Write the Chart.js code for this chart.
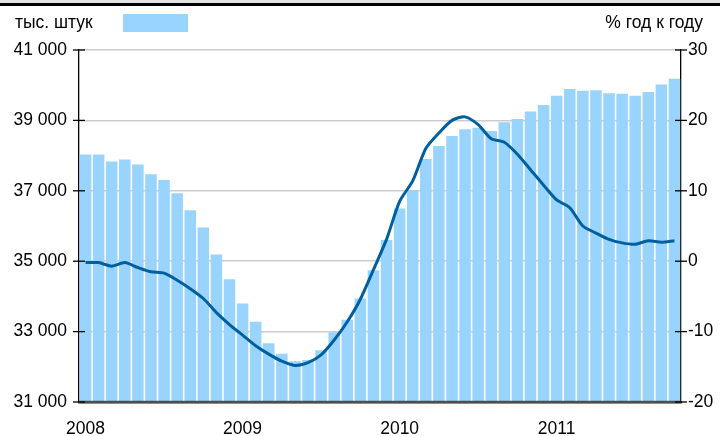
<!DOCTYPE html>
<html><head><meta charset="utf-8">
<script src="https://cdn.jsdelivr.net/npm/chart.js@4/dist/chart.umd.min.js"></script>
<style>
html,body{margin:0;padding:0;background:#fff;}
#wrap{position:relative;width:720px;height:436px;overflow:hidden;font-family:"Liberation Sans",Arial,sans-serif;color:#000;}
#topbar{position:absolute;left:0;top:0;width:720px;height:3px;background:#e4e4e4;}
#topline{position:absolute;left:0;top:3px;width:720px;height:3px;background:#000;}
#lt{position:absolute;left:15px;top:13px;font-size:17.5px;line-height:19px;}
#box{position:absolute;left:123px;top:14px;width:65px;height:18px;background:#99d4ff;}
#rt{position:absolute;right:17px;top:13px;font-size:17.5px;line-height:19px;}
canvas{position:absolute;left:0;top:0;}
</style></head>
<body><div id="wrap">
<canvas id="c" width="720" height="436"></canvas>
<div id="topbar"></div><div id="topline"></div>
<div id="lt">тыс. штук</div><div id="box"></div>
<div id="rt">% год к году</div>
</div>
<script>
const categories = [
 '2008-01','2008-02','2008-03','2008-04','2008-05','2008-06','2008-07','2008-08','2008-09','2008-10','2008-11','2008-12',
 '2009-01','2009-02','2009-03','2009-04','2009-05','2009-06','2009-07','2009-08','2009-09','2009-10','2009-11','2009-12',
 '2010-01','2010-02','2010-03','2010-04','2010-05','2010-06','2010-07','2010-08','2010-09','2010-10','2010-11','2010-12',
 '2011-01','2011-02','2011-03','2011-04','2011-05','2011-06','2011-07','2011-08','2011-09','2011-10'
];
const yearLabels = ['2008','2009','2010','2011'];
const unitsThousands = [
 38030,38030,37830,37890,37750,37470,37310,36930,36450,35960,35190,34490,
 33800,33280,32670,32370,32160,32190,32470,32980,33340,33940,34740,35600,
 36500,37010,37900,38270,38560,38750,38790,38700,38950,39040,39250,39440,
 39700,39890,39840,39860,39770,39760,39700,39810,40020,40180
];
const yoyPercent = [
 -0.2,-0.2,-0.7,-0.2,-0.9,-1.5,-1.7,-2.7,-3.9,-5.3,-7.3,-9.0,
 -10.5,-12.0,-13.2,-14.2,-14.8,-14.4,-13.3,-11.2,-8.6,-5.4,-1.2,3.1,
 8.5,11.4,16.0,18.2,20.0,20.5,19.4,17.4,16.9,15.2,13.0,10.8,
 8.7,7.6,5.0,4.0,3.1,2.6,2.4,2.9,2.7,2.9
];
const leftTicks = [31000,33000,35000,37000,39000,41000];
const rightTicks = [-20,-10,0,10,20,30];

const FONT = {family:'"Liberation Sans", Arial, sans-serif', size:17.5};

const crossTicks = {
  id:'crossTicks',
  afterDatasetsDraw(chart){
    const ctx = chart.ctx, yl = chart.scales.y, yr = chart.scales.y2, xs = chart.scales.x;
    ctx.save();
    ctx.strokeStyle = '#4d4d4d'; ctx.lineWidth = 2.5;
    ctx.beginPath(); ctx.moveTo(yl.right, xs.top); ctx.lineTo(yr.left, xs.top); ctx.stroke();
    ctx.strokeStyle = '#000'; ctx.lineWidth = 1.3;
    yl.ticks.forEach(t => { const y = yl.getPixelForValue(t.value); ctx.beginPath(); ctx.moveTo(yl.right-6, y); ctx.lineTo(yl.right+6, y); ctx.stroke(); });
    yr.ticks.forEach(t => { const y = yr.getPixelForValue(t.value); ctx.beginPath(); ctx.moveTo(yr.left-6, y); ctx.lineTo(yr.left+6, y); ctx.stroke(); });
    ctx.restore();
  }
};

new Chart(document.getElementById('c'), {
  data: {
    labels: categories,
    datasets: [
      {type:'line', data: yoyPercent, yAxisID:'y2', borderColor:'#005f9e', borderWidth:3, pointRadius:0, tension:0.25, order:0},
      {type:'bar', data: unitsThousands, yAxisID:'y', backgroundColor:'#99d4ff', barPercentage:0.88, categoryPercentage:1.0, order:1}
    ]
  },
  options: {
    responsive:false, animation:false,
    layout:{padding:{top:50,left:0,right:0,bottom:0}},
    plugins:{legend:{display:false}, tooltip:{enabled:false}},
    scales:{
      x:{
        type:'category', offset:true,
        grid:{display:false, drawTicks:false},
        border:{display:true, color:'#4d4d4d', width:2.5},
        ticks:{autoSkip:false, maxRotation:0, minRotation:0, padding:17, color:'#000', font:FONT,
          callback:(v,i)=> i%12===0 ? yearLabels[i/12] : ''},
        afterFit:(s)=>{ s.height = 34; }
      },
      y:{
        position:'left', min:31000, max:41000,
        afterBuildTicks:(s)=>{ s.ticks = leftTicks.map(v=>({value:v})); },
        grid:{color:'#cccccc', lineWidth:1.5, drawTicks:false},
        border:{display:true, color:'#000', width:1.3},
        ticks:{padding:12, color:'#000', font:FONT,
          callback:(v)=> String(v).replace(/\B(?=(\d{3})+(?!\d))/g,' ')},
        afterFit:(s)=>{ s.width = 79; }
      },
      y2:{
        position:'right', min:-20, max:30,
        afterBuildTicks:(s)=>{ s.ticks = rightTicks.map(v=>({value:v})); },
        grid:{display:false, drawTicks:false},
        border:{display:true, color:'#000', width:1.3},
        ticks:{padding:7, color:'#000', font:FONT},
        afterFit:(s)=>{ s.width = 39; }
      }
    }
  },
  plugins:[crossTicks]
});
</script>
</body></html>
